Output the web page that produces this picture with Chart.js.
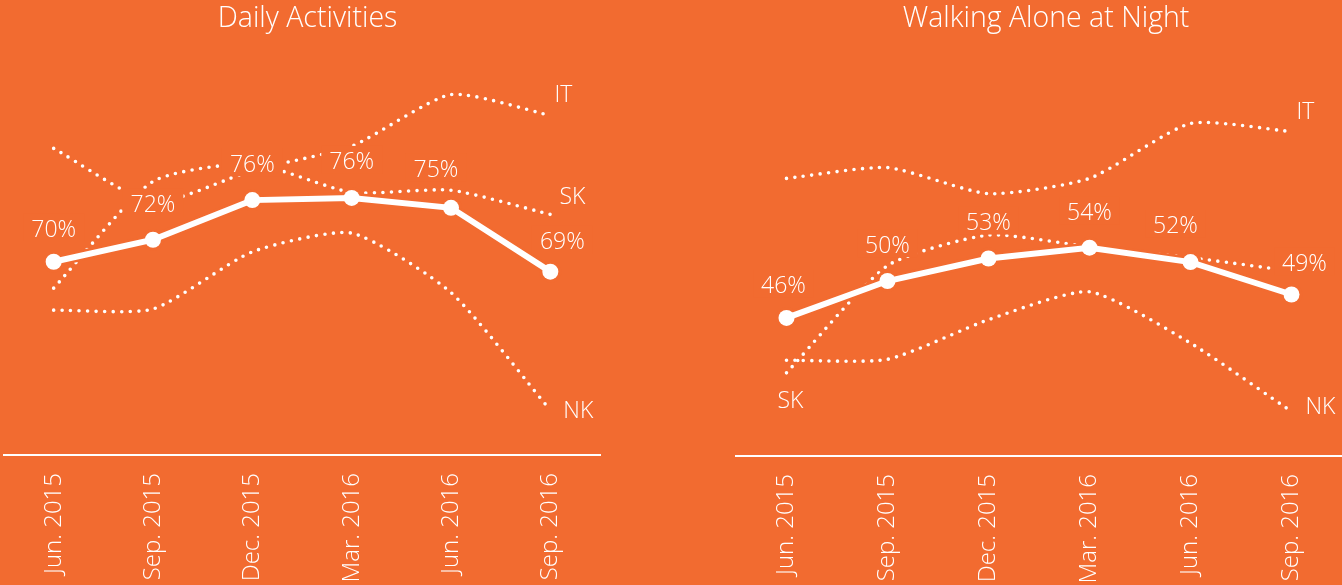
<!DOCTYPE html>
<html><head><meta charset="utf-8">
<script src="https://cdn.jsdelivr.net/npm/chart.js@4.4.1/dist/chart.umd.min.js"></script>
<style>
html,body{margin:0;padding:0;width:1342px;height:585px;overflow:hidden;background:#F26B30;}
.wrap{position:absolute;top:0;height:585px;}
#w1{left:0;width:611px;}
#w2{left:730px;width:626px;}
canvas{display:block;}
</style></head><body>
<div class="wrap" id="w1"><canvas id="c1" width="611" height="585"></canvas></div>
<div class="wrap" id="w2"><canvas id="c2" width="626" height="585"></canvas></div>
<script>
// ---- data ----
const categories = ['Jun. 2015', 'Sep. 2015', 'Dec. 2015', 'Mar. 2016', 'Jun. 2016', 'Sep. 2016'];

const dailyTitle = 'Daily Activities';
const dailyMain = [70.0, 72.0, 75.6, 75.8, 74.9, 69.1];
const dailyIT   = [80.3, 75.4, 78.3, 80.5, 85.2, 83.3];
const dailySK   = [67.6, 77.3, 78.9, 76.3, 76.5, 74.3];
const dailyNK   = [65.6, 65.7, 70.9, 72.6, 67.2, 56.5];

const nightTitle = 'Walking Alone at Night';
const nightMain = [46.2, 50.3, 52.8, 54.0, 52.4, 48.8];
const nightIT   = [61.7, 62.9, 60.0, 61.7, 67.8, 66.9];
const nightSK   = [40.1, 52.0, 55.4, 54.1, 52.9, 51.4];
const nightNK   = [41.5, 41.6, 46.0, 49.1, 43.4, 35.8];

const seriesNames = ['IT', 'SK', 'NK'];

// ---- style ----
const BG = '#F26B30';
const WHITE = '#FFFFFF';
const FONT = "'Open Sans', 'Liberation Sans', sans-serif";

const labelPlugin = {
  id: 'valueLabels',
  beforeDatasetDraw(chart, args, opts) {
    if (args.index !== 1) return;
    const meta = chart.getDatasetMeta(0);
    const ctx = chart.ctx;
    ctx.save();
    ctx.font = `300 ${opts.size}px ${FONT}`;
    ctx.fillStyle = BG;
    meta.data.forEach((pt, i) => {
      const [dx, dy] = opts.offsets[i];
      const txt = Math.round(chart.data.datasets[0].data[i]) + '%';
      const w = ctx.measureText(txt).width;
      ctx.fillRect(pt.x + dx - w / 2 - 8, pt.y + dy - 17, w + 16, 28);
    });
    ctx.restore();
  },
  afterDatasetsDraw(chart, args, opts) {
    const ctx = chart.ctx;
    ctx.save();
    ctx.font = `300 ${opts.size}px ${FONT}`;
    ctx.fillStyle = WHITE;
    ctx.textAlign = 'center';
    ctx.textBaseline = 'middle';
    const meta = chart.getDatasetMeta(0);
    meta.data.forEach((pt, i) => {
      const [dx, dy] = opts.offsets[i];
      const txt = Math.round(chart.data.datasets[0].data[i]) + '%';
      ctx.fillText(txt, pt.x + dx, pt.y + dy);
    });
    chart.data.datasets.forEach((ds, di) => {
      if (!ds.endLabel) return;
      const m = chart.getDatasetMeta(di);
      const pt = m.data[ds.endLabel.at];
      ctx.fillText(ds.label, pt.x + ds.endLabel.dx, pt.y + ds.endLabel.dy);
    });
    ctx.restore();
  }
};

function dotted(label, data, endLabel) {
  return {
    label, data, endLabel,
    borderColor: WHITE, borderWidth: 3.6, borderDash: [0, 8.5], borderCapStyle: 'round',
    pointRadius: 0, tension: 0.2, fill: false, order: 2
  };
}

function makeChart(id, title, main, it, sk, nk, cfg) {
  return new Chart(document.getElementById(id), {
    type: 'line',
    data: {
      labels: categories,
      datasets: [
        { label: 'main', data: main, borderColor: WHITE, borderWidth: 6, tension: 0,
          pointRadius: 8, pointBackgroundColor: WHITE, pointBorderWidth: 0, order: 0 },
        { label: 'halo', data: main, borderColor: BG, borderWidth: 11, tension: 0,
          pointRadius: 11, pointBackgroundColor: BG, pointBorderWidth: 0, order: 1 },
        dotted(seriesNames[0], it, cfg.it),
        dotted(seriesNames[1], sk, cfg.sk),
        dotted(seriesNames[2], nk, cfg.nk)
      ]
    },
    options: {
      responsive: false, animation: false, events: [],
      layout: { autoPadding: false, padding: { left: cfg.padLeft, right: 0, top: 0, bottom: 0 } },
      plugins: {
        legend: { display: false }, tooltip: { enabled: false },
        title: { display: true, text: title, color: WHITE,
          font: { family: FONT, size: 28.5, weight: '300', lineHeight: 1.2 },
          padding: { top: 2, bottom: 4.2 } },
        valueLabels: { size: 23, offsets: cfg.offsets }
      },
      scales: {
        x: {
          type: 'category', offset: true,
          grid: { display: false, drawTicks: false },
          border: { display: true, color: WHITE, width: 2 },
          ticks: { color: WHITE, font: { family: FONT, size: 24, weight: '300' },
            minRotation: 90, maxRotation: 90, autoSkip: false, padding: 18 },
          afterFit(s) { s.height = cfg.xHeight; s.paddingLeft = 0; s.paddingRight = 0; }
        },
        y: {
          position: 'right', min: cfg.min, max: cfg.max,
          grid: { display: false }, border: { display: false },
          ticks: { display: false },
          afterFit(s) { s.width = cfg.spacer; s.paddingTop = 0; s.paddingBottom = 0; }
        }
      }
    },
    plugins: [labelPlugin]
  });
}

makeChart('c1', dailyTitle, dailyMain, dailyIT, dailySK, dailyNK, {
  padLeft: 4, spacer: 11, xHeight: 130, min: 52.43, max: 90.12,
  offsets: [[0, -31], [0, -34], [0, -35], [0, -35], [-15, -37], [12, -29]],
  it: { at: 5, dx: 13, dy: -20 }, sk: { at: 5, dx: 22, dy: -17 }, nk: { at: 5, dx: 28, dy: 1 }
});

makeChart('c2', nightTitle, nightMain, nightIT, nightSK, nightNK, {
  padLeft: 6, spacer: 14, xHeight: 129, min: 30.86, max: 77.03,
  offsets: [[-3, -31], [0, -35], [0, -35], [0, -34], [-15, -36], [13, -30]],
  it: { at: 5, dx: 14, dy: -19 }, sk: { at: 0, dx: 4, dy: 29 }, nk: { at: 5, dx: 29, dy: -4 }
});
</script>
</body></html>
